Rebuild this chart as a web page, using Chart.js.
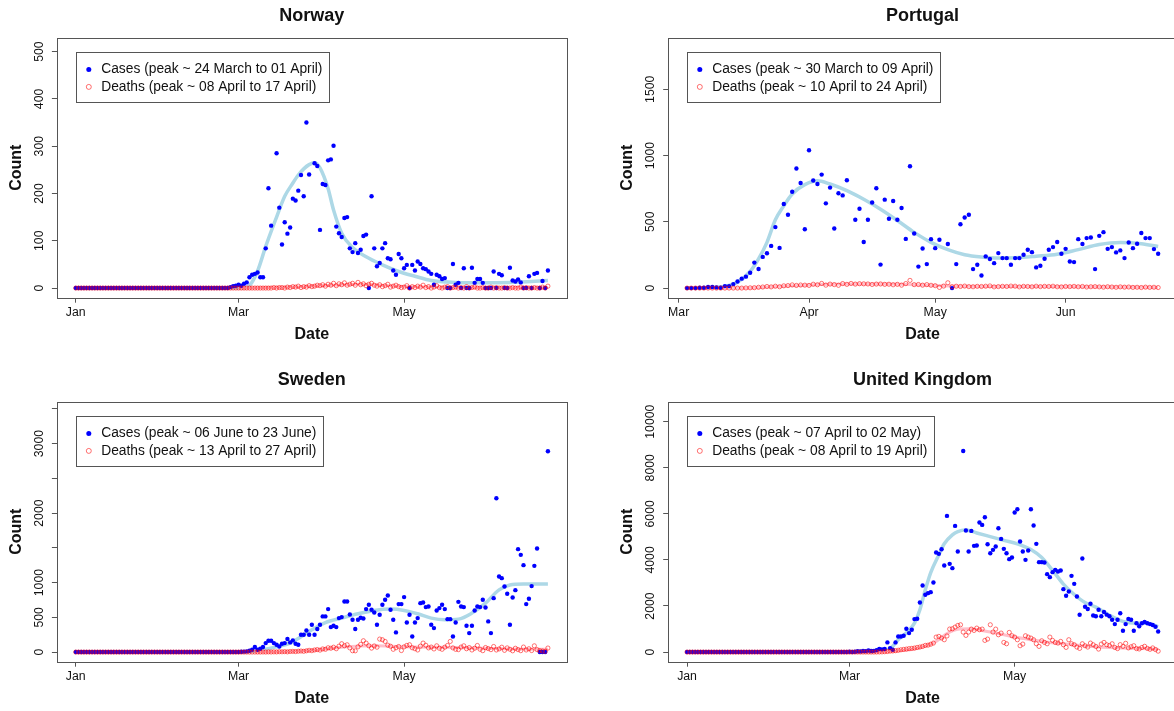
<!DOCTYPE html>
<html>
<head>
<meta charset="utf-8">
<title>Cases and deaths</title>
<script src="https://cdn.jsdelivr.net/npm/chart.js@4.4.0/dist/chart.umd.min.js"></script>
<style>
  html, body { margin: 0; padding: 0; background: #fff; overflow: hidden; }
  #page { position: relative; width: 1174px; height: 711px; overflow: hidden; }
  .panel { position: absolute; width: 587px; height: 350px; overflow: hidden; }
  .panel canvas { position: absolute; left: 0; top: 0; }
</style>
</head>
<body>
<div id="page">
  <div class="panel" style="left:0;top:0"><canvas id="norway" width="587" height="350"></canvas></div>
  <div class="panel" style="left:587px;top:0"><canvas id="portugal" width="600" height="350"></canvas></div>
  <div class="panel" style="left:0;top:364px"><canvas id="sweden" width="587" height="350"></canvas></div>
  <div class="panel" style="left:587px;top:364px"><canvas id="uk" width="600" height="350"></canvas></div>
</div>
<script>
// x values are day numbers counted from 1 January 2020 (= 0)
const MONTH_TICKS = [0, 60, 121];
const MONTH_LABELS = ['Jan', 'Mar', 'May'];
const PT_MONTH_TICKS = [60, 91, 121, 152];
const PT_MONTH_LABELS = ['Mar', 'Apr', 'May', 'Jun'];

// ---- Norway (1 Jan .. 23 Jun) ----
const NORWAY_START = 0;
const NORWAY_CASES = [
  0,0,0,0,0,0,0,0,0,0, 0,0,0,0,0,0,0,0,0,0, 0,0,0,0,0,0,0,0,0,0,
  0,0,0,0,0,0,0,0,0,0, 0,0,0,0,0,0,0,0,0,0, 0,0,0,0,0,0,0,2,4,5,
  7,5,9,12,23,28,30,33,23,23, 84,211,132,null,285,170,92,139,115,128,
  189,185,206,239,194,350,240,null,264,258, 123,220,218,270,272,301,130,116,108,148,
  150,84,76,95,74,81,110,113,0,194, 84,46,53,84,95,63,61,37,28,72,
  63,42,49,0,49,37,56,51,42,40, 35,30,7,28,25,19,21,0,0,51,
  7,11,0,42,0,0,43,11,19,19, 11,0,0,0,35,0,30,27,0,0,
  43,16,14,18,12,0,0,25,0,30, 32,0,15,0,37
];
const NORWAY_DEATHS = [
  0,0,0,0,0,0,0,0,0,0, 0,0,0,0,0,0,0,0,0,0, 0,0,0,0,0,0,0,0,0,0,
  0,0,0,0,0,0,0,0,0,0, 0,0,0,0,0,0,0,0,0,0, 0,0,0,0,0,0,0,0,0,0,
  0,0,0,0,0,0,0,0,0,0, 0,0,0,1,0,1,1,0,2,1,
  3,2,4,1,3,2,5,3,4,6, 5,7,4,8,6,10,5,9,7,11,
  6,8,10,6,12,7,9,5,8,10, 6,4,7,3,5,8,2,4,6,3,
  1,2,5,0,3,1,4,2,6,1, 3,0,2,5,1,0,2,3,0,1,
  2,0,1,0,3,0,1,2,0,0, 1,0,0,2,0,1,0,0,1,0,
  0,1,0,0,2,0,1,0,0,1, 0,0,2,0,4
];
const NORWAY_TREND_DAYS = [56, 62, 64, 67, 70, 74, 77, 80, 82, 84, 86, 88, 90, 93, 95, 98, 102, 107, 113, 119, 125, 131, 140, 150, 160, 174];
const NORWAY_TREND = [0, 0, 5, 36, 88, 150, 194, 222, 239, 252, 261, 265, 254, 210, 165, 116, 86, 66, 49, 35, 25, 16, 12, 11, 12, 16];
const NORWAY_DEATH_TREND_DAYS = [60, 80, 95, 105, 115, 130, 150, 174];
const NORWAY_DEATH_TREND = [0, 2, 6, 8, 5, 2, 1, 1];

// ---- Portugal (3 Mar .. 23 Jun) ----
const PORTUGAL_START = 62;
const PORTUGAL_CASES = [
  0,0,0,3,3,8,8,5,2,15,
  15,30,50,71,86,116,192,144,235,263,
  318,460,303,634,553,727,902,793,444,1040,
  811,785,856,639,758,449,715,699,813,null,
  515,598,348,515,646,753,177,667,523,657,
  515,604,371,919,412,162,299,181,369,301,
  364,null,332,0,181,482,532,553,143,176,
  95,239,219,188,264,226,226,176,226,226,
  251,289,271,156,168,221,289,309,347,259,
  296,201,196,369,332,377,382,143,394,422,
  296,309,269,284,226,344,301,334,415,377,
  377,294,259
];
const PORTUGAL_DEATHS = [
  0,0,0,0,0,0,0,0,0,0,
  0,0,0,0,1,2,3,6,8,12,
  9,14,10,17,19,24,20,23,22,20,
  29,25,35,22,30,26,21,34,28,35,
  30,33,32,31,27,30,31,28,29,25,
  28,22,34,58,26,27,22,26,21,18,
  5,15,40,10,14,12,15,11,10,13,
  12,14,16,9,11,13,12,15,14,9,
  13,12,10,14,11,13,12,14,10,9,
  12,11,13,10,12,8,10,11,9,7,
  10,8,6,9,7,8,5,6,4,7,
  5,6,4
];
const PORTUGAL_TREND_DAYS = [62, 70, 74, 77, 79, 81, 83, 85, 87, 90, 93, 96, 100, 104, 108, 112, 116, 120, 124, 128, 132, 136, 140, 145, 150, 155, 160, 165, 170, 174];
const PORTUGAL_TREND = [0, 8, 45, 125, 220, 345, 515, 620, 710, 780, 810, 785, 735, 670, 595, 510, 420, 345, 290, 252, 234, 226, 228, 240, 255, 290, 328, 343, 335, 313];
const PORTUGAL_DEATH_TREND_DAYS = [62, 75, 80, 85, 90, 100, 110, 118, 125, 135, 150, 165, 174];
const PORTUGAL_DEATH_TREND = [0, 1, 6, 14, 22, 30, 30, 24, 16, 12, 11, 8, 5];

// ---- Sweden (1 Jan .. 23 Jun) ----
const SWEDEN_START = 0;
const SWEDEN_CASES = [
  0,0,0,0,0,0,0,0,0,0, 0,0,0,0,0,0,0,0,0,0, 0,0,0,0,0,0,0,0,0,0,
  0,0,0,0,0,0,0,0,0,0, 0,0,0,0,0,0,0,0,0,0, 0,0,0,0,0,0,0,0,0,1,
  2,5,7,10,19,34,72,34,48,72, 129,163,163,129,105,81,120,129,187,139,
  168,120,105,249,249,311,249,393,249,331, 393,513,513,618,359,379,359,489,503,728,
  728,541,465,331,465,494,484,618,680,609, 570,393,537,680,752,815,609,465,283,690,
  690,791,426,537,225,426,489,704,714,647, 656,393,345,599,633,680,618,474,474,225,
  426,723,656,647,379,273,379,599,656,647, 752,642,441,273,776,2214,1088,1064,944,839,
  393,786,891,1481,1399,1251,690,767,949,1241, 1490,0,0,0,2889
];
const SWEDEN_DEATHS = [
  0,0,0,0,0,0,0,0,0,0, 0,0,0,0,0,0,0,0,0,0, 0,0,0,0,0,0,0,0,0,0,
  0,0,0,0,0,0,0,0,0,0, 0,0,0,0,0,0,0,0,0,0, 0,0,0,0,0,0,0,0,0,0,
  0,0,0,0,0,0,0,0,0,1, 0,2,1,3,2,5,4,6,3,8,
  10,7,12,15,11,18,25,20,30,36, 28,45,40,62,55,70,48,85,120,91,
  105,60,19,18,75,110,163,129,91,57, 88,70,187,177,153,99,84,40,62,80,
  22,75,96,105,62,48,30,85,129,98, 60,72,45,90,55,40,70,95,153,60,
  40,35,72,90,48,65,30,55,95,40, 20,65,50,35,80,30,45,70,25,60,
  40,18,55,35,20,72,30,48,22,90, 35,20,15,10,58
];
const SWEDEN_TREND_DAYS = [60, 66, 70, 75, 79, 83, 87, 92, 98, 104, 110, 116, 121, 126, 131, 136, 141, 146, 151, 156, 160, 165, 170, 174];
const SWEDEN_TREND = [0, 10, 40, 85, 129, 220, 320, 425, 490, 551, 599, 618, 599, 551, 489, 465, 474, 561, 704, 896, 965, 980, 980, 980];
const SWEDEN_DEATH_TREND_DAYS = [66, 80, 90, 100, 110, 120, 130, 140, 150, 160, 174];
const SWEDEN_DEATH_TREND = [0, 10, 35, 75, 90, 78, 70, 65, 55, 45, 40];

// ---- United Kingdom (1 Jan .. 23 Jun) ----
const UK_START = 0;
const UK_CASES = [
  0,0,0,0,0,0,0,0,0,0, 0,0,0,0,0,0,0,0,0,0, 0,0,0,0,0,0,0,0,0,0,
  0,0,0,0,0,0,0,0,0,0, 0,0,0,0,0,0,0,0,0,0, 0,0,0,0,0,0,0,0,0,0,
  12,4,11,34,30,48,43,67,48,52, 83,134,117,133,419,173,100,419,679,679,
  708,1012,824,968,1431,1445,2153,2890,2486,2558, 2601,3020,4321,4263,4465,3757,5910,3829,3642,5477,
  4364,null,8728,5275,4364,5260,4610,4624,5621,5520, 5853,4682,4292,4436,4581,5376,4913,4480,4292,4032,
  4104,6055,6199,4798,4364,4003,4408,6199,5491,4697, 3902,3902,3887,3382,3252,3468,3569,3497,3540,2731,
  2442,2630,3309,2962,2413,1618,4061,1964,1872,2098, 1586,1552,1834,1552,1738,1625,1552,1400,1214,1400,
  1682,928,1214,1439,1400,928,1248,1118,1248,1305, 1248,1214,1175,1100,893
];
const UK_DEATHS = [
  0,0,0,0,0,0,0,0,0,0, 0,0,0,0,0,0,0,0,0,0, 0,0,0,0,0,0,0,0,0,0,
  0,0,0,0,0,0,0,0,0,0, 0,0,0,0,0,0,0,0,0,0, 0,0,0,0,0,0,0,0,0,0,
  0,0,0,0,0,0,0,0,0,0, 2,5,8,15,25,40,48,60,80,100,
  115,130,150,160,175,200,220,245,290,300, 340,390,650,680,610,535,700,1000,1012,1084,
  1156,1185,867,723,867,997,939,1040,968,997, 506,564,1185,867,997,751,824,419,361,853,
  708,650,535,275,347,708,650,607,535,361, 245,491,419,361,650,506,419,390,462,318,
  202,535,361,318,217,159,361,275,217,390, 318,245,130,347,419,318,283,360,200,150,
  322,245,380,180,230,276,150,135,200,250, 160,120,180,110,40
];
const UK_TREND_DAYS = [60, 70, 75, 78, 81, 84, 86, 88, 90, 93, 95, 98, 100, 103, 107, 112, 117, 122, 127, 131, 135, 139, 143, 147, 151, 156, 161, 166, 170, 174];
const UK_TREND = [0, 30, 150, 535, 824, 1257, 1835, 2702, 3450, 4220, 4700, 5087, 5231, 5300, 5170, 5010, 4850, 4700, 4450, 4100, 3550, 2950, 2500, 2150, 1950, 1600, 1330, 1250, 1250, 1100];
const UK_DEATH_TREND_DAYS = [60, 75, 84, 88, 92, 96, 100, 104, 109, 115, 121, 127, 134, 140, 146, 152, 160, 168, 174];
const UK_DEATH_TREND = [0, 30, 130, 260, 460, 800, 990, 1010, 940, 800, 650, 535, 420, 347, 275, 217, 180, 150, 120];

// ---- look ----
const FONT = '"Liberation Sans", Arial, sans-serif';
const TEXT_COL = '#111';
const LINE_COL = '#555';
const CASE_COL = '#0000ff';
const DEATH_COL = 'rgba(255,0,0,0.55)';
const CASE_TREND_COL = '#add8e6';
const DEATH_TREND_COL = '#ffc0cb';

function series(start, values) {
  return values.map((v, i) => ({ x: start + i, y: v }));
}
function curve(days, values) {
  return days.map((d, i) => ({ x: d, y: values[i] }));
}

// plot box like R's box()
const rFrame = {
  id: 'rFrame',
  afterDatasetsDraw(chart) {
    const a = chart.chartArea, ctx = chart.ctx;
    ctx.save();
    ctx.strokeStyle = LINE_COL;
    ctx.lineWidth = 1;
    ctx.strokeRect(Math.round(a.left) + 0.5, Math.round(a.top) + 0.5,
      Math.round(a.right - a.left), Math.round(a.bottom - a.top));
    ctx.restore();
  }
};

// y tick labels written along the axis (R default las = 0)
const rYLabels = {
  id: 'rYLabels',
  afterDraw(chart, args, opts) {
    const ctx = chart.ctx, ys = chart.scales.y;
    const x0 = chart.chartArea.left - opts.offset;
    ctx.save();
    ctx.font = '12.3px ' + FONT;
    ctx.fillStyle = TEXT_COL;
    ctx.textAlign = 'center';
    ctx.textBaseline = 'middle';
    opts.values.forEach(v => {
      ctx.save();
      ctx.translate(x0, ys.getPixelForValue(v));
      ctx.rotate(-Math.PI / 2);
      ctx.fillText(String(v), 0, 0);
      ctx.restore();
    });
    ctx.restore();
  }
};

// boxed legend in the top-left corner of the plot
const rLegend = {
  id: 'rLegend',
  afterDraw(chart, args, opts) {
    const ctx = chart.ctx, a = chart.chartArea;
    ctx.save();
    ctx.font = '13.8px ' + FONT;
    const w = Math.max(...opts.items.map(t => ctx.measureText(t).width));
    const bx = Math.round(a.left + opts.left) + 0.5;
    const by = Math.round(a.top + opts.top) + 0.5;
    const bw = Math.round(opts.textX + w + opts.padRight);
    ctx.fillStyle = '#fff';
    ctx.fillRect(bx, by, bw, opts.height);
    ctx.strokeStyle = LINE_COL;
    ctx.lineWidth = 1;
    ctx.strokeRect(bx, by, bw, opts.height);
    opts.items.forEach((t, i) => {
      const cy = by + opts.rowY[i];
      ctx.beginPath();
      ctx.arc(bx + opts.symbolX, cy, 2.5, 0, 2 * Math.PI);
      if (i === 0) {
        ctx.fillStyle = CASE_COL;
        ctx.fill();
      } else {
        ctx.strokeStyle = DEATH_COL;
        ctx.lineWidth = 1;
        ctx.stroke();
      }
      ctx.fillStyle = TEXT_COL;
      ctx.textAlign = 'left';
      ctx.textBaseline = 'middle';
      ctx.fillText(t, bx + opts.textX, cy);
    });
    ctx.restore();
  }
};

function makePanel(id, p) {
  new Chart(document.getElementById(id), {
    type: 'scatter',
    data: {
      datasets: [
        { data: curve(p.trendDays, p.trend), showLine: true, borderColor: CASE_TREND_COL, borderWidth: 3.5,
          pointRadius: 0, cubicInterpolationMode: 'monotone', order: 4 },
        { data: curve(p.deathTrendDays, p.deathTrend), showLine: true, borderColor: DEATH_TREND_COL, borderWidth: 3,
          pointRadius: 0, cubicInterpolationMode: 'monotone', order: 3 },
        { data: series(p.start, p.cases), pointRadius: 2.2, backgroundColor: CASE_COL, borderWidth: 0, order: 2 },
        { data: series(p.start, p.deaths), pointRadius: 2.1, backgroundColor: 'rgba(0,0,0,0)',
          borderColor: DEATH_COL, borderWidth: 1, order: 1 }
      ]
    },
    options: {
      responsive: false,
      animation: false,
      devicePixelRatio: 1,
      events: [],
      layout: { autoPadding: false, padding: { left: 0, top: 0, bottom: 0, right: p.padRight } },
      plugins: {
        legend: { display: false },
        tooltip: { enabled: false },
        title: {
          display: true, text: p.title, fullSize: false, color: TEXT_COL,
          font: { family: FONT, size: 18, weight: 'bold' },
          padding: { top: 5.2, bottom: 10.9 }
        },
        rYLabels: { values: p.yLabels, offset: 17.2 },
        rLegend: {
          items: p.legend, left: p.legendLeft, top: 14.5, height: 50,
          symbolX: 12.3, textX: 24.7, padRight: 7.5, rowY: [17, 34.4]
        }
      },
      scales: {
        x: {
          type: 'linear', min: p.xMin, max: p.xMax,
          afterBuildTicks: s => { s.ticks = p.xTicks.map(v => ({ value: v })); },
          afterFit: s => { s.height = 52.3; },
          grid: { drawOnChartArea: false, tickLength: 5, color: LINE_COL },
          border: { display: false },
          ticks: {
            autoSkip: false, maxRotation: 0, padding: 3, color: TEXT_COL,
            font: { family: FONT, size: 12.3 },
            callback: v => p.xLabels[p.xTicks.indexOf(v)]
          },
          title: {
            display: true, text: 'Date', color: TEXT_COL,
            font: { family: FONT, size: 16, weight: 'bold' },
            padding: { top: 0, bottom: 5.4 }
          }
        },
        y: {
          type: 'linear', min: p.yMin, max: p.yMax,
          afterBuildTicks: s => { s.ticks = p.yTicks.map(v => ({ value: v })); },
          afterFit: s => { s.width = p.yAxisWidth; },
          grid: { drawOnChartArea: false, tickLength: 5, color: LINE_COL },
          border: { display: false },
          ticks: { display: false },
          title: {
            display: true, text: 'Count', color: TEXT_COL,
            font: { family: FONT, size: 16, weight: 'bold' },
            padding: { top: p.countPad, bottom: 0 }
          }
        }
      }
    },
    plugins: [rFrame, rYLabels, rLegend]
  });
}

const LEFT = { padRight: 20.2, yAxisWidth: 56.9, countPad: 7.2, legendLeft: 19.5 };
const RIGHT = { padRight: 10, yAxisWidth: 81.2, countPad: 30.8, legendLeft: 19.2 };

makePanel('norway', Object.assign({}, LEFT, {
  title: 'Norway',
  start: NORWAY_START, cases: NORWAY_CASES, deaths: NORWAY_DEATHS,
  trendDays: NORWAY_TREND_DAYS, trend: NORWAY_TREND,
  deathTrendDays: NORWAY_DEATH_TREND_DAYS, deathTrend: NORWAY_DEATH_TREND,
  xMin: -6.96, xMax: 180.96, xTicks: MONTH_TICKS, xLabels: MONTH_LABELS,
  yMin: -20.4, yMax: 529.4, yTicks: [0, 100, 200, 300, 400, 500], yLabels: [0, 100, 200, 300, 400, 500],
  legend: ['Cases (peak ~ 24 March to 01 April)', 'Deaths (peak ~ 08 April to 17 April)']
}));

makePanel('portugal', Object.assign({}, RIGHT, {
  title: 'Portugal',
  start: PORTUGAL_START, cases: PORTUGAL_CASES, deaths: PORTUGAL_DEATHS,
  trendDays: PORTUGAL_TREND_DAYS, trend: PORTUGAL_TREND,
  deathTrendDays: PORTUGAL_DEATH_TREND_DAYS, deathTrend: PORTUGAL_DEATH_TREND,
  xMin: 57.52, xMax: 178.48, xTicks: PT_MONTH_TICKS, xLabels: PT_MONTH_LABELS,
  yMin: -72.6, yMax: 1888.6, yTicks: [0, 500, 1000, 1500], yLabels: [0, 500, 1000, 1500],
  legend: ['Cases (peak ~ 30 March to 09 April)', 'Deaths (peak ~ 10 April to 24 April)']
}));

makePanel('sweden', Object.assign({}, LEFT, {
  title: 'Sweden',
  start: SWEDEN_START, cases: SWEDEN_CASES, deaths: SWEDEN_DEATHS,
  trendDays: SWEDEN_TREND_DAYS, trend: SWEDEN_TREND,
  deathTrendDays: SWEDEN_DEATH_TREND_DAYS, deathTrend: SWEDEN_DEATH_TREND,
  xMin: -6.96, xMax: 180.96, xTicks: MONTH_TICKS, xLabels: MONTH_LABELS,
  yMin: -138.6, yMax: 3603, yTicks: [0, 500, 1000, 1500, 2000, 2500, 3000, 3500], yLabels: [0, 500, 1000, 2000, 3000],
  legend: ['Cases (peak ~ 06 June to 23 June)', 'Deaths (peak ~ 13 April to 27 April)']
}));

makePanel('uk', Object.assign({}, RIGHT, {
  title: 'United Kingdom',
  start: UK_START, cases: UK_CASES, deaths: UK_DEATHS,
  trendDays: UK_TREND_DAYS, trend: UK_TREND,
  deathTrendDays: UK_DEATH_TREND_DAYS, deathTrend: UK_DEATH_TREND,
  xMin: -6.96, xMax: 180.96, xTicks: MONTH_TICKS, xLabels: MONTH_LABELS,
  yMin: -418, yMax: 10867, yTicks: [0, 2000, 4000, 6000, 8000, 10000], yLabels: [0, 2000, 4000, 6000, 8000, 10000],
  legend: ['Cases (peak ~ 07 April to 02 May)', 'Deaths (peak ~ 08 April to 19 April)']
}));
</script>
</body>
</html>
